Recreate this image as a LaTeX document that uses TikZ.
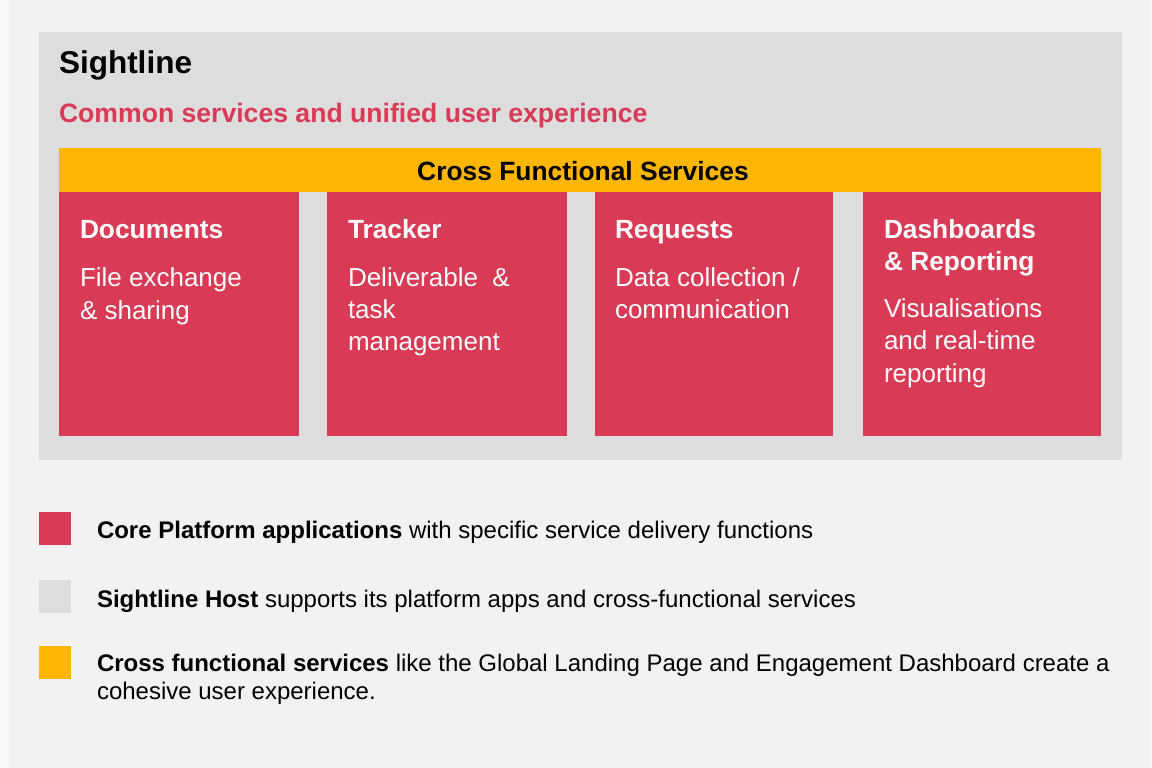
\documentclass[tikz,border=0pt]{standalone}
\usepackage{fontspec}
\setmainfont{Liberation Sans}
\definecolor{edgetone}{HTML}{F8F8F8}
\definecolor{pagetone}{HTML}{F2F2F2}
\definecolor{hostgray}{HTML}{DDDDDD}
\definecolor{appred}{HTML}{D93A56}
\definecolor{xfyellow}{HTML}{FFB600}
\begin{document}
\begin{tikzpicture}[x=1pt,y=-1pt,
  panel/.style={anchor=north west, inner sep=0pt, outer sep=0pt, draw=none},
  hostbox/.style={panel, fill=hostgray},
  appbox/.style={panel, fill=appred, minimum height=244pt},
  xfbar/.style={panel, fill=xfyellow},
  swatch/.style={panel, minimum width=32pt, minimum height=33pt},
  txt/.style={anchor=base west, inner sep=0pt, outer sep=0pt},
  apptitle/.style={txt, text=white, font=\fontsize{26.3}{32}\selectfont\bfseries},
  appbody/.style={txt, text=white, font=\fontsize{26}{33}\selectfont},
  legend/.style={txt, text=black, font=\fontsize{24}{28}\selectfont}
]
\useasboundingbox (0,0) rectangle (1152,768);
\fill[edgetone] (0,0) rectangle (1152,768);
\fill[pagetone] (9,0) rectangle (1150,768);

% Sightline host panel
\node[hostbox, minimum width=1083pt, minimum height=428pt] (host) at (39,32) {};
\node[txt, font=\fontsize{31.5}{38}\selectfont\bfseries] (hosttitle) at (59,74) {Sightline};
\node[txt, text=appred, font=\fontsize{26.6}{32}\selectfont\bfseries] (hostsub) at (59,122)
  {Common services and unified user experience};

% cross functional services bar
\node[xfbar, minimum width=1042pt, minimum height=44pt] (xf) at (59,148) {};
\node[font=\fontsize{26.4}{30}\selectfont\bfseries, inner sep=0pt, anchor=base] (xftext) at (583,180)
  {Cross Functional Services};

% platform applications
\node[appbox, minimum width=240pt] (docs) at (59,192) {};
\node[appbox, minimum width=240pt] (tracker) at (327,192) {};
\node[appbox, minimum width=238pt] (requests) at (595,192) {};
\node[appbox, minimum width=238pt] (dash) at (863,192) {};

\node[apptitle] (docst) at (80,238) {Documents};
\node[appbody] (docsb) at (80,286) {\parbox[t]{210pt}{\fontsize{26}{33}\selectfont File exchange\\\& sharing}};

\node[apptitle] (trackert) at (348,238) {Tracker};
\node[appbody] (trackerb) at (348,286) {\parbox[t]{210pt}{\fontsize{26}{32}\selectfont Deliverable \ \&\\task\\management}};

\node[apptitle] (requestst) at (615,238) {Requests};
\node[appbody] (requestsb) at (615,286) {\parbox[t]{210pt}{\fontsize{26}{32}\selectfont Data collection /\\communication}};

\node[apptitle] (dasht) at (884,238) {\parbox[t]{210pt}{\fontsize{26.3}{32}\selectfont\bfseries Dashboards\\\& Reporting}};
\node[appbody] (dashb) at (884,317) {\parbox[t]{210pt}{\fontsize{26}{32.5}\selectfont Visualisations\\and real-time\\reporting}};

% legend
\node[swatch, fill=appred] (keyapp) at (39,512) {};
\node[swatch, fill=hostgray] (keyhost) at (39,580) {};
\node[swatch, fill=xfyellow] (keyxf) at (39,646) {};

\node[legend] (keyappt) at (97,538) {\textbf{Core Platform applications} with specific service delivery functions};
\node[legend] (keyhostt) at (97,607) {\textbf{Sightline Host} supports its platform apps and cross-functional services};
\node[legend] (keyxft) at (97,671) {\parbox[t]{1040pt}{\fontsize{24}{28}\selectfont\textbf{Cross functional services} like the Global Landing Page and Engagement Dashboard create a\\cohesive user experience.}};
\end{tikzpicture}
\end{document}
